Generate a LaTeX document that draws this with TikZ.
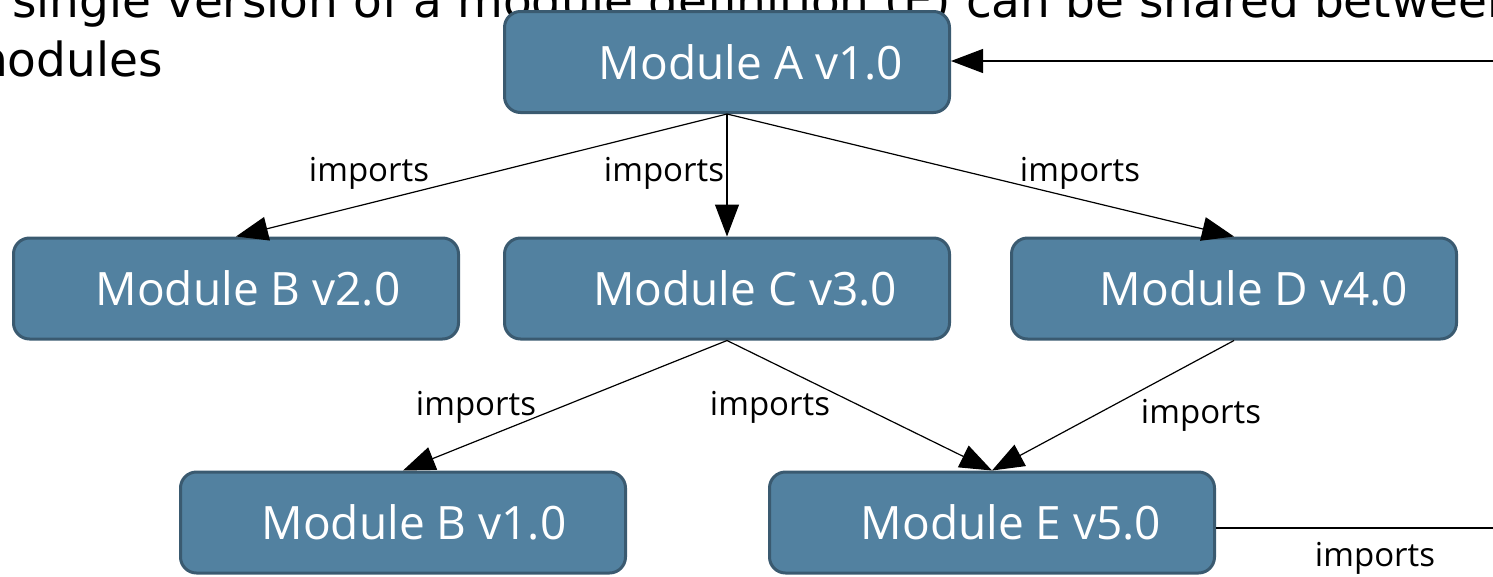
\documentclass[tikz,border=0pt]{standalone}
\usepackage{fontspec}
\setmainfont{Open Sans}
\newfontfamily\notefont{DejaVu Sans}
\usetikzlibrary{arrows.meta}
\definecolor{modfill}{HTML}{5281A0}
\definecolor{modedge}{HTML}{3A5A70}

\begin{document}
\begin{tikzpicture}[x=1pt,y=-1pt,
  module/.style={draw=modedge, fill=modfill, line width=3pt, rounded corners=16pt,
    minimum width=445pt, minimum height=101pt, inner sep=0pt, text=white,
    font=\fontsize{46}{50}\selectfont},
  link/.style={line width=1.2pt, -{Triangle[length=32pt,width=24pt]}},
  plainlink/.style={line width=1.2pt},
  lbl/.style={font=\fontsize{33}{36}\selectfont, inner sep=0pt},
  note/.style={font=\notefont\fontsize{47}{52}\selectfont, anchor=base west, inner sep=0pt}]
\useasboundingbox (0,0) rectangle (1493,576);
\clip (0,0) rectangle (1493,576);

% caption text behind the graph
\node[note] (note1) at (12,17) {single version of a module definition (E) can be shared between};
\node[note] (note2) at (-38,76) {modules};

% modules
\node[module] (A)  at (727,62)    {\hspace*{48pt}Module A v1.0};
\node[module] (B2) at (236,288.5) {\hspace*{24pt}Module B v2.0};
\node[module] (C)  at (727,288.5) {\hspace*{36pt}Module C v3.0};
\node[module] (D)  at (1234,288.5){\hspace*{40pt}Module D v4.0};
\node[module] (B1) at (403,522.5) {\hspace*{22pt}Module B v1.0};
\node[module] (E)  at (992,522.5) {\hspace*{38pt}Module E v5.0};

% import edges
\draw[link] (A.south) -- (B2.north);
\draw[link] (A.south) -- (C.north);
\draw[link] (A.south) -- (D.north);
\draw[link] (C.south) -- (B1.north);
\draw[link] (C.south) -- (E.north);
\draw[link] (D.south) -- (E.north);

\node[lbl] (l1) at (369,173) {imports};
\node[lbl] (l2) at (664,173) {imports};
\node[lbl] (l3) at (1080,173) {imports};
\node[lbl] (l4) at (476,407) {imports};
\node[lbl] (l5) at (770,407) {imports};
\node[lbl] (l6) at (1201,415) {imports};

% edges leaving and entering the visible area
\coordinate (inA) at (1500,61);
\draw[link] (inA) -- (A.east |- inA);
\coordinate (outE) at (1500,528);
\draw[plainlink] (E.east |- outE) -- (outE);
\node[lbl] (l7) at (1375,558) {imports};
\end{tikzpicture}
\end{document}
